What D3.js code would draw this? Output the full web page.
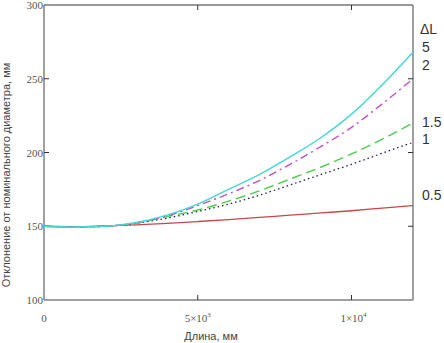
<!DOCTYPE html>
<html>
<head>
<meta charset="utf-8">
<script src="https://cdn.jsdelivr.net/npm/d3@7"></script>
<style>
  html, body { margin: 0; padding: 0; background: #fff; }
  svg { display: block; }
</style>
</head>
<body>
<svg id="chart" width="444" height="343"></svg>
<script>
// длина, мм
const lengths = [0, 1000, 2000, 3000, 4000, 5000, 6000, 7000, 8000, 9000, 10000, 11000, 12000];

// отклонение для разных ΔL
const dL05 = [150, 149.8, 150.3, 151, 152, 153.2, 154.5, 156, 157.5, 159, 160.5, 162.3, 164];
const dL1  = [150, 149.5, 150, 152, 155.5, 160, 165, 171, 178, 185, 192, 199.5, 207];
const dL15 = [150, 149.5, 150, 152.2, 156.5, 161, 167, 174, 182, 190, 199, 209, 220];
const dL2  = [150, 149.5, 150, 152.3, 157, 164, 172, 181, 192, 204, 217, 233, 250];
const dL5  = [150, 149.5, 150, 152.5, 157.5, 165, 175, 185, 197, 210, 226, 246, 268];

const legendLabels = ["5", "2", "1.5", "1", "0.5"];
const yTicks = [100, 150, 200, 250, 300];

const svg = d3.select('#chart');
const margin = {top: 5, right: 31, bottom: 43, left: 44};
const W = 444, H = 343;

const x = d3.scaleLinear().domain([0, 12000]).range([margin.left, W - margin.right]);
const y = d3.scaleLinear().domain([100, 300]).range([H - margin.bottom, margin.top]);

// рамка
const x0 = x(0), x1 = x(12000), y0 = y(100), y1 = y(300);
svg.append('line').attr('x1', x0).attr('x2', x0).attr('y1', y1).attr('y2', y0)
  .attr('stroke', '#808080').attr('stroke-width', 1.5);
svg.append('line').attr('x1', x0).attr('x2', x1).attr('y1', y0).attr('y2', y0)
  .attr('stroke', '#808080').attr('stroke-width', 1.5);
svg.append('line').attr('x1', x0).attr('x2', x1).attr('y1', y1).attr('y2', y1)
  .attr('stroke', '#333').attr('stroke-width', 1);
svg.append('line').attr('x1', x1).attr('x2', x1).attr('y1', y1).attr('y2', y0)
  .attr('stroke', '#808080').attr('stroke-width', 1.5);

// засечки внутри
[5000, 10000].forEach(v => {
  svg.append('line').attr('x1', x(v)).attr('x2', x(v)).attr('y1', y1).attr('y2', y1 + 5)
    .attr('stroke', '#333');
  svg.append('line').attr('x1', x(v)).attr('x2', x(v)).attr('y1', y0).attr('y2', y0 - 5)
    .attr('stroke', '#333');
});
[150, 200, 250].forEach(v => {
  svg.append('line').attr('x1', x0).attr('x2', x0 + 5).attr('y1', y(v)).attr('y2', y(v))
    .attr('stroke', '#333');
  svg.append('line').attr('x1', x1).attr('x2', x1 - 5).attr('y1', y(v)).attr('y2', y(v))
    .attr('stroke', '#333');
});

// подписи оси Y
svg.selectAll('.ytl').data(yTicks).enter().append('text')
  .attr('class', 'ytl')
  .attr('x', x0 - 1).attr('y', d => y(d) + 4)
  .attr('text-anchor', 'end')
  .attr('font-family', '"Liberation Serif", serif').attr('font-size', 11)
  .attr('fill', '#555')
  .text(d => d);

// подписи оси X
const xl = svg.append('g').attr('font-family', '"Liberation Serif", serif')
  .attr('font-size', 11).attr('fill', '#555');
xl.append('text').attr('x', x(0)).attr('y', 322).attr('text-anchor', 'middle').text('0');
const t1 = xl.append('text').attr('x', x(5000)).attr('y', 322).attr('text-anchor', 'middle');
t1.append('tspan').text('5×10');
t1.append('tspan').attr('dy', -5).attr('font-size', 7).text('3');
const t2 = xl.append('text').attr('x', x(10000) + 2).attr('y', 322).attr('text-anchor', 'middle');
t2.append('tspan').text('1×10');
t2.append('tspan').attr('dy', -5).attr('font-size', 7).text('4');

// заголовки осей
svg.append('text').attr('x', 211).attr('y', 340).attr('text-anchor', 'middle')
  .attr('font-family', '"Liberation Sans", Arial, sans-serif').attr('font-size', 11)
  .attr('fill', '#444').text('Длина, мм');
svg.append('text').attr('transform', 'translate(10,175) rotate(-90)')
  .attr('text-anchor', 'middle')
  .attr('font-family', '"Liberation Sans", Arial, sans-serif').attr('font-size', 11)
  .attr('fill', '#444').text('Отклонение от номинального диаметра, мм');

// кривые
const series = [
  {vals: dL05, color: '#c44848', dash: null, w: 1.3},
  {vals: dL1,  color: '#1e1e50', dash: '1.5,3', w: 1.3},
  {vals: dL15, color: '#4ccc4c', dash: '10,5', w: 1.4},
  {vals: dL2,  color: '#c24fc2', dash: '8,4,2,4', w: 1.4},
  {vals: dL5,  color: '#45d6d6', dash: null, w: 1.4}
];

const line = d3.line()
  .x(d => x(d[0]))
  .y(d => y(d[1]))
  .curve(d3.curveMonotoneX);

series.forEach(s => {
  svg.append('path')
    .datum(lengths.map((L, i) => [L, s.vals[i]]))
    .attr('d', line)
    .attr('fill', 'none')
    .attr('stroke', s.color)
    .attr('stroke-width', s.w)
    .attr('stroke-dasharray', s.dash);
});

// подписи ΔL справа
const lg = svg.append('g').attr('font-family', '"Liberation Sans", Arial, sans-serif')
  .attr('font-size', 14).attr('fill', '#333');
lg.append('text').attr('x', 420).attr('y', 34).text('ΔL');
const lgY = [52, 70, 127, 144, 200];
legendLabels.forEach((t, i) => {
  lg.append('text').attr('x', 422).attr('y', lgY[i]).text(t);
});
</script>
</body>
</html>
